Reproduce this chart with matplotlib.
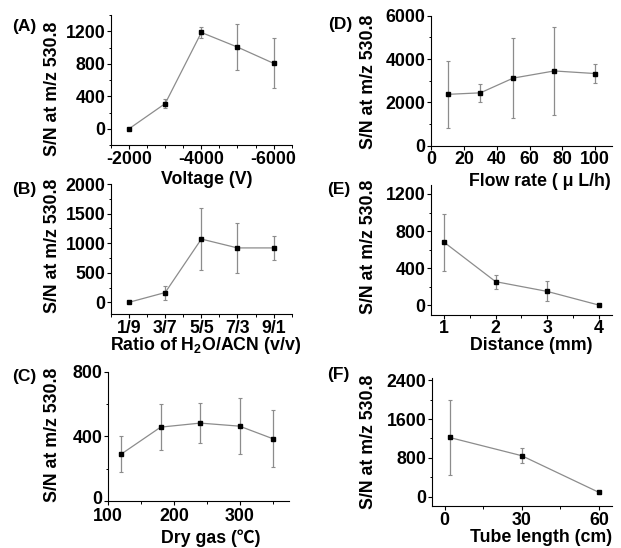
import matplotlib
matplotlib.use("Agg")
import matplotlib.pyplot as plt
import matplotlib.transforms as mtransforms
from matplotlib.ticker import MultipleLocator, FixedLocator

plt.rcParams['font.family'] = ['Liberation Sans', 'Noto Sans CJK SC', 'DejaVu Sans']
plt.rcParams['font.weight'] = 'bold'
plt.rcParams['axes.unicode_minus'] = False
plt.rcParams['mathtext.fontset'] = 'custom'
plt.rcParams['mathtext.rm'] = 'Liberation Sans:bold'
plt.rcParams['mathtext.it'] = 'Liberation Sans:bold'
plt.rcParams['mathtext.default'] = 'rm'

# ---- data ----
voltage = [-2000, -3000, -4000, -5000, -6000]
sn_voltage = [0, 310, 1185, 1005, 805]
err_voltage = [0, 57, 65, 288, 308]

ratio_labels = ["1/9", "3/7", "5/5", "7/3", "9/1"]
sn_ratio = [0, 165, 1070, 920, 920]
err_ratio = [0, 118, 527, 425, 197]

dry_gas = [120, 180, 240, 300, 350]
sn_gas = [290, 457, 482, 463, 386]
err_gas = [113, 143, 124, 175, 178]

flow_rate = [10, 30, 50, 75, 100]
sn_flow = [2370, 2440, 3120, 3450, 3330]
err_flow = [1540, 430, 1840, 2040, 440]

distance = [1, 2, 3, 4]
sn_dist = [680, 255, 150, 3]
err_dist = [307, 77, 108, 0]

tube = [2, 30, 60]
sn_tube = [1220, 845, 90]
err_tube = [780, 160, 35]

W, H = 621, 548
fig = plt.figure(figsize=(W / 100, H / 100), dpi=100)

FS = 12.8
YLAB = "S/N at m/z 530.8"


def make_ax(L, R, T, B):
    ax = fig.add_axes([L / W, 1 - B / H, (R - L) / W, (B - T) / H])
    ax.set_facecolor('none')
    return ax


def style(ax, label, lab_xy, xlabel, xl_xy, yl_xy, box):
    L, R, T, B = box
    for s in ['top', 'right']:
        ax.spines[s].set_visible(False)
    for s in ['left', 'bottom']:
        ax.spines[s].set_linewidth(0.8)
    ax.tick_params(which='major', direction='out', length=2.8, width=0.8,
                   labelsize=FS, pad=1.2)
    ax.tick_params(which='minor', direction='out', length=1.8, width=0.7)
    for t in ax.get_xticklabels() + ax.get_yticklabels():
        t.set_fontweight('bold')
    ax.set_xlabel(xlabel, fontsize=FS, fontweight='bold', ha='center', va='center')
    ax.xaxis.set_label_coords((xl_xy[0] - L) / (R - L), (B - xl_xy[1]) / (B - T))
    ax.set_ylabel(YLAB, fontsize=FS, fontweight='bold', ha='center', va='center')
    ax.yaxis.set_label_coords((yl_xy[0] - L) / (R - L), (B - yl_xy[1]) / (B - T))
    fig.text(lab_xy[0] / W, 1 - lab_xy[1] / H, label, fontsize=12.5,
             fontweight='bold', ha='center', va='center')


def plot(ax, x, y, e):
    ax.errorbar(x, y, yerr=e, fmt='none', ecolor='#8c8c8c', elinewidth=0.9,
                capsize=1.6, capthick=0.8, zorder=2)
    ax.plot(x, y, '-', color='#8c8c8c', lw=0.9, zorder=3)
    ax.plot(x, y, 's', color='black', ms=3, zorder=4, lw=0)


# (A)
boxA = (111, 291.7, 15, 145)
ax = make_ax(*boxA)
plot(ax, voltage, sn_voltage, err_voltage)
ax.set_xlim(-1500, -6500)
ax.set_ylim(-200, 1400)
ax.xaxis.set_major_locator(FixedLocator([-2000, -4000, -6000]))
ax.xaxis.set_minor_locator(MultipleLocator(500))
ax.yaxis.set_major_locator(FixedLocator([0, 400, 800, 1200]))
ax.yaxis.set_minor_locator(MultipleLocator(200))
style(ax, "(A)", (24, 26.7), "Voltage (V)", (206.5, 179), (52.5, 88.5), boxA)

# (B)
boxB = (111, 291.7, 184.1, 314.1)
ax = make_ax(*boxB)
xb = list(range(1, len(ratio_labels) + 1))
plot(ax, xb, sn_ratio, err_ratio)
ax.set_xlim(0.5, 5.5)
ax.set_ylim(-200, 2000)
ax.set_xticks(xb)
ax.set_xticklabels(ratio_labels)
ax.xaxis.set_minor_locator(MultipleLocator(0.5))
ax.yaxis.set_major_locator(FixedLocator([0, 500, 1000, 1500, 2000]))
ax.yaxis.set_minor_locator(MultipleLocator(250))
style(ax, "(B)", (24, 189.5), r"Ratio of H$_2$O/ACN (v/v)", (206, 346), (52.5, 246), boxB)

# (C)
boxC = (108, 289, 371.7, 501)
ax = make_ax(*boxC)
plot(ax, dry_gas, sn_gas, err_gas)
ax.set_xlim(100, 375)
ax.set_ylim(0, 800)
ax.xaxis.set_major_locator(FixedLocator([100, 200, 300]))
ax.xaxis.set_minor_locator(MultipleLocator(50))
ax.yaxis.set_major_locator(FixedLocator([0, 400, 800]))
ax.yaxis.set_minor_locator(MultipleLocator(200))
style(ax, "(C)", (24, 376.7), "Dry gas (\u2103)", (211, 538), (52.5, 435), boxC)
ax.tick_params(axis='x', which='major', pad=2.2)
fig.canvas.draw()
zero_lab = ax.get_yticklabels()[0]
zero_lab.set_transform(zero_lab.get_transform() +
                       mtransforms.ScaledTranslation(0, 3 / 100, fig.dpi_scale_trans))

# (D)
boxD = (431.2, 611.6, 15.7, 145.7)
ax = make_ax(*boxD)
plot(ax, flow_rate, sn_flow, err_flow)
ax.set_xlim(0, 110)
ax.set_ylim(0, 6000)
ax.xaxis.set_major_locator(FixedLocator([0, 20, 40, 60, 80, 100]))
ax.yaxis.set_major_locator(FixedLocator([0, 2000, 4000, 6000]))
ax.yaxis.set_minor_locator(MultipleLocator(1000))
style(ax, "(D)", (340, 25), "Flow rate ( \u03bc L/h)", (540, 181), (369, 81.5), boxD)

# (E)
boxE = (431.2, 611.6, 184.7, 314.6)
ax = make_ax(*boxE)
plot(ax, distance, sn_dist, err_dist)
ax.set_xlim(0.75, 4.25)
ax.set_ylim(-100, 1300)
ax.xaxis.set_major_locator(FixedLocator([1, 2, 3, 4]))
ax.xaxis.set_minor_locator(MultipleLocator(0.5))
ax.yaxis.set_major_locator(FixedLocator([0, 400, 800, 1200]))
ax.yaxis.set_minor_locator(MultipleLocator(200))
style(ax, "(E)", (339, 189.5), "Distance (mm)", (531.3, 345), (369, 247), boxE)

# (F)
boxF = (431.7, 611.7, 378.3, 506.4)
ax = make_ax(*boxF)
plot(ax, tube, sn_tube, err_tube)
ax.set_xlim(-5, 65)
ax.set_ylim(-200, 2440)
ax.xaxis.set_major_locator(FixedLocator([0, 30, 60]))
ax.xaxis.set_minor_locator(MultipleLocator(15))
ax.yaxis.set_major_locator(FixedLocator([0, 800, 1600, 2400]))
ax.yaxis.set_minor_locator(MultipleLocator(400))
style(ax, "(F)", (338, 375), "Tube length (cm)", (541, 538), (369, 441.7), boxF)

fig.savefig("out.png", dpi=100)
